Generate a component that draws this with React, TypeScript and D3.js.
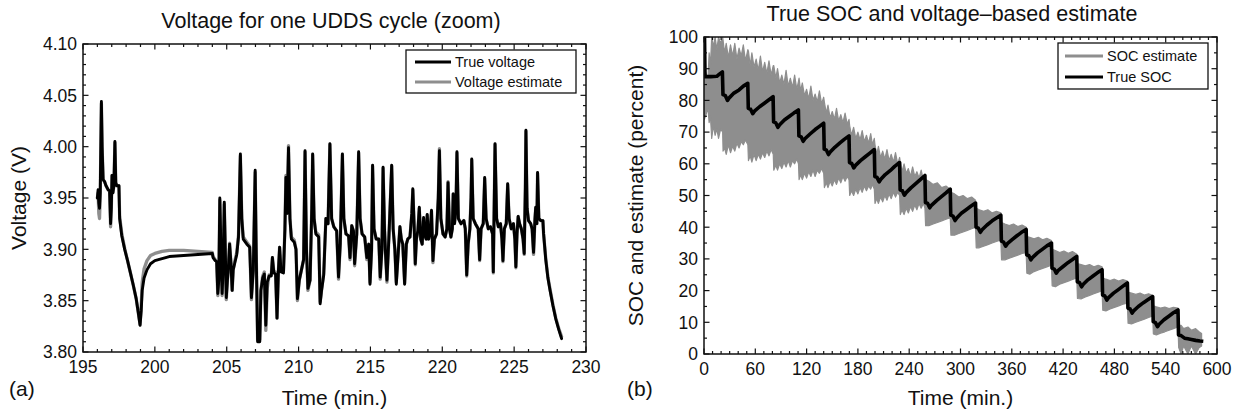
import React from "react";
import * as d3 from "d3";

// ---------- Data: left panel (Voltage for one UDDS cycle) ----------
const VOLT_TRUE: [number, number][] = [
  [196.0, 3.95], [196.05, 3.958], [196.1, 3.945], [196.15, 3.94], [196.2, 3.955], [196.28, 4.044], [196.33, 4.0],
  [196.4, 3.968], [196.5, 3.966], [196.6, 3.962], [196.75, 3.958], [196.85, 3.957], [196.92, 3.925], [196.97, 3.94],
  [197.02, 3.972], [197.08, 3.955], [197.15, 3.962], [197.22, 4.005], [197.28, 3.965], [197.35, 3.962], [197.5, 3.962],
  [197.55, 3.93], [197.7, 3.913], [197.9, 3.9], [198.1, 3.889], [198.3, 3.877], [198.5, 3.865], [198.7, 3.852],
  [198.85, 3.838], [198.97, 3.826], [199.05, 3.84], [199.12, 3.86], [199.25, 3.872], [199.45, 3.88], [199.7, 3.886],
  [200.0, 3.889], [200.5, 3.891], [201.0, 3.893], [202.0, 3.894], [203.0, 3.895], [204.0, 3.896],
  [204.05, 3.892], [204.2, 3.889], [204.3, 3.888], [204.38, 3.857], [204.45, 3.87], [204.52, 3.95], [204.6, 3.9],
  [204.68, 3.857], [204.75, 3.88], [204.83, 3.946], [204.9, 3.9], [204.97, 3.853], [205.05, 3.87], [205.12, 3.883],
  [205.2, 3.905], [205.28, 3.89], [205.38, 3.86], [205.45, 3.88], [205.55, 3.886], [205.7, 3.895], [205.82, 3.912],
  [205.95, 3.993], [206.05, 3.93], [206.15, 3.91], [206.4, 3.905], [206.6, 3.902], [206.72, 3.853], [206.85, 3.88],
  [206.98, 3.977], [207.05, 3.9], [207.15, 3.81], [207.3, 3.81], [207.38, 3.86], [207.5, 3.872], [207.62, 3.876],
  [207.72, 3.826], [207.82, 3.868], [207.95, 3.874], [208.1, 3.874], [208.18, 3.892], [208.28, 3.877], [208.4, 3.876],
  [208.5, 3.833], [208.6, 3.88], [208.68, 3.902], [208.78, 3.878], [208.95, 3.877], [209.05, 3.92], [209.12, 3.97],
  [209.2, 3.935], [209.3, 3.999], [209.4, 3.93], [209.5, 3.91], [209.7, 3.907], [209.82, 3.9], [209.92, 3.852],
  [210.05, 3.87], [210.2, 3.88], [210.35, 3.89], [210.45, 3.996], [210.55, 3.9], [210.65, 3.862], [210.8, 3.87],
  [210.92, 3.94], [210.98, 3.993], [211.08, 3.93], [211.2, 3.915], [211.4, 3.912], [211.5, 3.847], [211.6, 3.86],
  [211.75, 3.875], [211.9, 3.93], [212.05, 3.925], [212.18, 4.003], [212.3, 3.93], [212.45, 3.922], [212.65, 3.918],
  [212.78, 3.873], [212.9, 3.905], [213.05, 3.993], [213.15, 3.93], [213.3, 3.915], [213.48, 3.913], [213.58, 3.892],
  [213.7, 3.923], [213.82, 3.918], [213.9, 3.886], [214.05, 3.915], [214.18, 3.995], [214.28, 3.93], [214.42, 3.915],
  [214.6, 3.912], [214.75, 3.892], [214.88, 3.905], [214.97, 3.866], [215.08, 3.9], [215.15, 3.982], [215.25, 3.92],
  [215.4, 3.91], [215.58, 3.91], [215.68, 3.873], [215.8, 3.9], [215.88, 3.98], [215.98, 3.92], [216.05, 3.896],
  [216.15, 3.87], [216.28, 3.91], [216.48, 3.982], [216.58, 3.92], [216.7, 3.9], [216.8, 3.866], [216.95, 3.9],
  [217.05, 3.922], [217.15, 3.91], [217.25, 3.905], [217.38, 3.866], [217.5, 3.905], [217.6, 3.91], [217.75, 3.912],
  [217.88, 3.935], [217.95, 3.959], [218.05, 3.92], [218.12, 3.886], [218.2, 3.91], [218.3, 3.918], [218.4, 3.941],
  [218.5, 3.91], [218.6, 3.905], [218.7, 3.931], [218.8, 3.913], [218.88, 3.91], [218.95, 3.934], [219.05, 3.91],
  [219.15, 3.915], [219.25, 3.938], [219.35, 3.889], [219.45, 3.91], [219.6, 3.915], [219.72, 3.95], [219.8, 3.996],
  [219.9, 3.93], [220.05, 3.915], [220.2, 3.912], [220.32, 3.92], [220.4, 3.965], [220.5, 3.92], [220.6, 3.912],
  [220.7, 3.92], [220.76, 3.954], [220.85, 3.925], [220.95, 3.94], [221.02, 3.995], [221.12, 3.93], [221.3, 3.925],
  [221.5, 3.928], [221.6, 3.92], [221.7, 3.875], [221.8, 3.905], [221.92, 3.92], [222.0, 3.95], [222.05, 3.988],
  [222.15, 3.93], [222.3, 3.925], [222.5, 3.92], [222.6, 3.89], [222.7, 3.92], [222.85, 3.925], [222.95, 3.97],
  [223.05, 3.93], [223.2, 3.92], [223.35, 3.922], [223.5, 3.915], [223.55, 3.878], [223.6, 3.93], [223.67, 4.003],
  [223.78, 3.93], [223.9, 3.922], [224.05, 3.925], [224.15, 3.91], [224.22, 3.889], [224.32, 3.92], [224.45, 3.925],
  [224.55, 3.964], [224.65, 3.93], [224.8, 3.92], [224.95, 3.925], [225.05, 3.91], [225.12, 3.883], [225.2, 3.915],
  [225.28, 3.932], [225.38, 3.925], [225.5, 3.92], [225.62, 3.91], [225.7, 3.896], [225.78, 3.96], [225.82, 4.016],
  [225.9, 3.94], [226.0, 3.928], [226.15, 3.925], [226.25, 3.92], [226.35, 3.897], [226.45, 3.93], [226.5, 3.941],
  [226.58, 3.925], [226.63, 3.975], [226.72, 3.93], [226.85, 3.928], [227.0, 3.928], [227.05, 3.915], [227.2, 3.89],
  [227.35, 3.872], [227.5, 3.86], [227.7, 3.845], [227.9, 3.832], [228.1, 3.822], [228.3, 3.813],
];

const VOLT_EST: [number, number][] = [
  [196.0, 3.95], [196.05, 3.955], [196.1, 3.935], [196.15, 3.93], [196.2, 3.952], [196.28, 4.042], [196.33, 4.0],
  [196.4, 3.968], [196.5, 3.966], [196.6, 3.962], [196.75, 3.958], [196.85, 3.957], [196.92, 3.922], [196.97, 3.94],
  [197.02, 3.972], [197.08, 3.955], [197.15, 3.962], [197.22, 4.004], [197.28, 3.965], [197.35, 3.962], [197.5, 3.962],
  [197.55, 3.932], [197.7, 3.915], [197.9, 3.901], [198.1, 3.889], [198.3, 3.877], [198.5, 3.865], [198.7, 3.852],
  [198.85, 3.838], [198.97, 3.827], [199.05, 3.845], [199.12, 3.868], [199.25, 3.881], [199.45, 3.889], [199.7, 3.894],
  [200.0, 3.896], [200.5, 3.898], [201.0, 3.899], [202.0, 3.899], [203.0, 3.898], [204.0, 3.897],
  [204.05, 3.893], [204.2, 3.89], [204.3, 3.888], [204.38, 3.855], [204.45, 3.87], [204.52, 3.948], [204.6, 3.9],
  [204.68, 3.855], [204.75, 3.88], [204.83, 3.944], [204.9, 3.9], [204.97, 3.851], [205.05, 3.87], [205.12, 3.883],
  [205.2, 3.906], [205.28, 3.89], [205.38, 3.86], [205.45, 3.88], [205.55, 3.888], [205.7, 3.897], [205.82, 3.914],
  [205.95, 3.991], [206.05, 3.93], [206.15, 3.912], [206.4, 3.907], [206.6, 3.903], [206.72, 3.851], [206.85, 3.88],
  [206.98, 3.975], [207.05, 3.9], [207.15, 3.812], [207.3, 3.812], [207.38, 3.86], [207.5, 3.874], [207.62, 3.878],
  [207.72, 3.821], [207.82, 3.862], [207.95, 3.875], [208.1, 3.875], [208.18, 3.892], [208.28, 3.878], [208.4, 3.878],
  [208.5, 3.833], [208.6, 3.88], [208.68, 3.902], [208.78, 3.879], [208.95, 3.879], [209.05, 3.92], [209.12, 3.972],
  [209.2, 3.935], [209.3, 4.001], [209.4, 3.93], [209.5, 3.912], [209.7, 3.909], [209.82, 3.9], [209.92, 3.85],
  [210.05, 3.87], [210.2, 3.88], [210.35, 3.89], [210.45, 3.995], [210.55, 3.9], [210.65, 3.86], [210.8, 3.87],
  [210.92, 3.94], [210.98, 3.992], [211.08, 3.93], [211.2, 3.917], [211.4, 3.914], [211.5, 3.849], [211.6, 3.86],
  [211.75, 3.877], [211.9, 3.93], [212.05, 3.925], [212.18, 4.002], [212.3, 3.93], [212.45, 3.922], [212.65, 3.918],
  [212.78, 3.871], [212.9, 3.905], [213.05, 3.992], [213.15, 3.93], [213.3, 3.915], [213.48, 3.913], [213.58, 3.89],
  [213.7, 3.923], [213.82, 3.918], [213.9, 3.884], [214.05, 3.915], [214.18, 3.994], [214.28, 3.93], [214.42, 3.915],
  [214.6, 3.912], [214.75, 3.89], [214.88, 3.905], [214.97, 3.868], [215.08, 3.9], [215.15, 3.981], [215.25, 3.92],
  [215.4, 3.91], [215.58, 3.91], [215.68, 3.871], [215.8, 3.9], [215.88, 3.979], [215.98, 3.92], [216.05, 3.896],
  [216.15, 3.868], [216.28, 3.91], [216.48, 3.981], [216.58, 3.92], [216.7, 3.9], [216.8, 3.868], [216.95, 3.9],
  [217.05, 3.922], [217.15, 3.91], [217.25, 3.905], [217.38, 3.867], [217.5, 3.905], [217.6, 3.91], [217.75, 3.912],
  [217.88, 3.935], [217.95, 3.958], [218.05, 3.92], [218.12, 3.885], [218.2, 3.91], [218.3, 3.918], [218.4, 3.94],
  [218.5, 3.91], [218.6, 3.905], [218.7, 3.93], [218.8, 3.913], [218.88, 3.91], [218.95, 3.933], [219.05, 3.91],
  [219.15, 3.915], [219.25, 3.937], [219.35, 3.887], [219.45, 3.91], [219.6, 3.915], [219.72, 3.95], [219.8, 3.998],
  [219.9, 3.93], [220.05, 3.915], [220.2, 3.912], [220.32, 3.92], [220.4, 3.966], [220.5, 3.92], [220.6, 3.912],
  [220.7, 3.92], [220.76, 3.954], [220.85, 3.925], [220.95, 3.94], [221.02, 3.994], [221.12, 3.93], [221.3, 3.925],
  [221.5, 3.928], [221.6, 3.92], [221.7, 3.874], [221.8, 3.905], [221.92, 3.92], [222.0, 3.95], [222.05, 3.987],
  [222.15, 3.93], [222.3, 3.925], [222.5, 3.92], [222.6, 3.889], [222.7, 3.92], [222.85, 3.925], [222.95, 3.969],
  [223.05, 3.93], [223.2, 3.92], [223.35, 3.922], [223.5, 3.915], [223.55, 3.877], [223.6, 3.93], [223.67, 4.002],
  [223.78, 3.93], [223.9, 3.922], [224.05, 3.925], [224.15, 3.91], [224.22, 3.888], [224.32, 3.92], [224.45, 3.925],
  [224.55, 3.963], [224.65, 3.93], [224.8, 3.92], [224.95, 3.925], [225.05, 3.91], [225.12, 3.882], [225.2, 3.915],
  [225.28, 3.932], [225.38, 3.925], [225.5, 3.92], [225.62, 3.91], [225.7, 3.895], [225.78, 3.96], [225.82, 4.015],
  [225.9, 3.94], [226.0, 3.928], [226.15, 3.925], [226.25, 3.92], [226.35, 3.895], [226.45, 3.93], [226.5, 3.94],
  [226.58, 3.925], [226.63, 3.974], [226.72, 3.93], [226.85, 3.928], [227.0, 3.928], [227.05, 3.915], [227.2, 3.891],
  [227.35, 3.873], [227.5, 3.861], [227.7, 3.846], [227.9, 3.833], [228.1, 3.823], [228.3, 3.815],
];

const LEFT_X_TICKS = [195, 200, 205, 210, 215, 220, 225, 230];
const LEFT_Y_TICKS = [3.8, 3.85, 3.9, 3.95, 4.0, 4.05, 4.1];

// ---------- Data: right panel (True SOC and voltage-based estimate) ----------
const SOC_TRUE: [number, number][] = [
  [0, 100], [0.6, 100], [1.2, 87.5], [8, 87.5], [15, 87.6], [18, 88.3], [21.5, 89],
  [22.2, 81.8], [25, 81.5], [27.5, 80], [29.5, 80.8], [35, 82.3], [41, 83.3], [46, 84.5], [51.2, 85.4],
  [51.8, 77.5], [54.5, 77.2], [57, 75.8], [59, 76.6], [65, 78], [71, 79.2], [76, 80.2], [80.8, 81.2],
  [81.4, 73.2], [84, 72.9], [86.5, 71.5], [88.5, 72.3], [94, 73.8], [100, 75], [105, 76], [110.4, 77],
  [111, 68.8], [113.6, 68.5], [116, 67.1], [118, 67.9], [124, 69.4], [130, 70.8], [135, 71.8], [140, 72.8],
  [140.6, 64.6], [143.2, 64.3], [145.6, 62.9], [147.6, 63.7], [153, 65.2], [159, 66.6], [164, 67.7], [169.6, 68.8],
  [170.2, 60.4], [172.8, 60.1], [175.2, 58.7], [177.2, 59.5], [183, 61], [189, 62.3], [194, 63.4], [199.2, 64.5],
  [199.8, 56], [202.4, 55.7], [204.8, 54.3], [206.8, 55.1], [212, 56.6], [218, 57.9], [223, 59.2], [228.8, 60.4],
  [229.4, 51.8], [232, 51.5], [234.4, 50.1], [236.4, 50.9], [242, 52.4], [248, 53.8], [253, 55], [258.4, 56.3],
  [259, 47.8], [261.6, 47.5], [264, 46.1], [266, 46.9], [272, 48.4], [278, 49.7], [283, 50.8], [288, 52],
  [288.6, 43.8], [291.2, 43.5], [293.6, 42.1], [295.6, 42.9], [301, 44.4], [307, 45.6], [312, 46.6], [317.6, 47.6],
  [318.2, 40], [320.8, 39.7], [323.2, 38.4], [325.2, 39.2], [331, 40.7], [337, 42], [342, 42.9], [347.2, 43.8],
  [347.8, 35.6], [350.4, 35.3], [352.8, 34], [354.8, 34.8], [360, 36], [366, 37.3], [371, 38.3], [376.8, 39.3],
  [377.4, 31.3], [380, 31], [382.4, 29.7], [384.4, 30.5], [390, 31.9], [396, 33.1], [401, 34.1], [406.4, 35],
  [407, 27.1], [409.6, 26.8], [412, 25.5], [414, 26.3], [420, 27.6], [426, 28.9], [431, 29.8], [436, 30.8],
  [436.6, 22.8], [439.2, 22.5], [441.6, 21.2], [443.6, 22], [449, 23.4], [455, 24.6], [460, 25.6], [465.6, 26.6],
  [466.2, 18.6], [468.8, 18.3], [471.2, 17], [473.2, 17.8], [479, 19.2], [485, 20.4], [490, 21.4], [495.2, 22.4],
  [495.8, 14.5], [498.4, 14.2], [500.8, 12.9], [502.8, 13.7], [508, 15], [514, 16.2], [519, 17.1], [524.8, 18.1],
  [525.4, 10.2], [528, 9.9], [530.4, 8.6], [532.4, 9.4], [538, 10.8], [544, 12], [549, 13], [554.4, 13.9],
  [555, 6], [558, 5.8], [562, 5], [566, 4.8], [570, 4.6], [575, 4.3], [580, 4.1], [584, 4],
];

// SOC estimate envelope: [time, low, high]
const SOC_EST_BAND: [number, number, number][] = [
  [0, 87, 88], [0.5, 74, 90], [3, 76, 88], [4.5, 78, 86], [6, 73, 95], [7.5, 75, 91], [9, 68, 100], [11, 72, 97],
  [13, 69, 100], [15, 71, 96], [17, 68, 100], [19.5, 71, 98], [21.8, 70, 100],
  [22.3, 64, 99], [24, 65, 95], [26, 63, 98], [28.5, 66, 93.5], [31, 63.5, 97.5], [33.5, 65.5, 94], [36, 64, 98],
  [38.5, 66.5, 93], [41, 65, 96.5], [43.5, 67, 94], [46, 66, 97.5], [48.5, 67.5, 92.5], [51.3, 66, 96],
  [52, 61, 95.5], [54, 62.5, 91], [56, 60.5, 95], [58.5, 63, 90.5], [61, 61, 93], [63.5, 63, 89.5], [66, 61.5, 94],
  [68.5, 63.5, 89], [71, 62, 92], [73.5, 64, 88.5], [76, 62.5, 92.5], [78.5, 64.5, 88], [81, 63, 91],
  [81.6, 58, 91], [84, 59.5, 87], [86, 58, 90], [88.5, 60, 85.5], [91, 58.5, 88], [93.5, 60.5, 85], [96, 59, 89.5],
  [98.5, 61, 84.5], [101, 59, 87], [103.5, 61, 84], [106, 60, 88], [108.5, 61.5, 83.5], [110.5, 60, 86],
  [111.2, 55, 87], [113, 56.5, 83], [115, 55, 85.5], [117.5, 57, 81.5], [120, 55.5, 83.5], [122.5, 57.5, 80.5],
  [125, 56, 84.5], [127.5, 58, 80], [130, 56, 82], [132.5, 58, 79.5], [135, 57, 83], [137.5, 58.5, 79], [140, 57, 81],
  [140.8, 52.5, 79.5], [143, 54, 76], [145, 52.5, 78.5], [147.5, 54.5, 74.5], [150, 53, 76.5], [152.5, 55, 74],
  [155, 53.5, 77.5], [157.5, 55.5, 73.5], [160, 54, 75.5], [162.5, 56, 73], [165, 54.5, 76], [167.5, 56, 72.5], [169.6, 55, 74],
  [170.4, 50, 72], [172.5, 51.5, 69], [175, 50, 71.5], [177.5, 52, 68], [180, 50.5, 70], [182.5, 52.5, 67.5],
  [185, 51, 70.5], [187.5, 53, 67], [190, 51.5, 69], [192.5, 53, 66.5], [195, 52, 69.5], [197, 53.5, 66], [199.2, 52, 68],
  [200, 47.5, 66], [202, 49, 63], [204, 47.5, 65.5], [206.5, 49.5, 62], [209, 48, 64], [211.5, 50, 61.5],
  [214, 48.5, 64.5], [216.5, 50.5, 61], [219, 49, 63], [221.5, 51, 60.5], [224, 49.5, 63.5], [226.5, 51, 60], [228.8, 50, 62],
  [229.6, 44, 60.5], [231.5, 45.5, 57.5], [234, 44, 60], [236.5, 46, 57], [239, 44.5, 58.5], [241.5, 46.5, 56],
  [244, 45, 59], [246.5, 47, 56], [249, 45.5, 57.5], [251.5, 47.5, 55.5], [254, 46, 58], [256.5, 47.5, 55], [258.4, 46, 56.5],
  [259.2, 40.5, 55], [263, 40.5, 54.5], [268, 41, 53.5], [273, 41.5, 54], [278, 42, 52.5], [283, 42.5, 53], [288, 43, 52],
  [288.8, 37.5, 51], [293, 37.5, 50.5], [298, 38, 49.5], [303, 38.5, 50], [308, 39, 49], [313, 39.5, 49.5], [317.6, 40, 48.5],
  [318.4, 33.5, 46], [322, 33.5, 45.5], [327, 34, 45], [332, 34.5, 45.5], [337, 35, 44.5], [342, 35.5, 45], [347.2, 36, 44.5],
  [348, 29.7, 41.5], [352, 29.7, 41], [357, 30.2, 40.5], [362, 30.7, 41], [367, 31.2, 40.2], [372, 31.7, 40.7], [376.8, 32, 40],
  [377.6, 25.5, 37], [381, 25.2, 36.8], [386, 26, 36.3], [391, 26.5, 36.8], [396, 27, 36], [401, 27.5, 36.5], [406.4, 28, 35.8],
  [407.2, 21.5, 33], [411, 21.2, 32.6], [416, 22, 32], [421, 22.5, 32.5], [426, 23, 31.8], [431, 23.5, 32.3], [436, 24, 31.5],
  [436.8, 17.5, 28.5], [441, 17.4, 28.2], [446, 18, 27.8], [451, 18.5, 28.2], [456, 19, 27.5], [461, 19.5, 28], [465.6, 20, 27.5],
  [466.4, 13.8, 24], [470, 13.6, 23.6], [475, 14.2, 23.2], [480, 14.7, 23.6], [485, 15.2, 23], [490, 15.7, 23.5], [495.2, 16, 23],
  [496, 9.7, 19.5], [500, 9.5, 19.2], [505, 10, 18.8], [510, 10.5, 19.2], [515, 11, 18.6], [520, 11.5, 19], [524.8, 12, 18.5],
  [525.6, 6.3, 15.2], [529, 6, 14.9], [534, 6.6, 14.5], [539, 7, 14.8], [544, 7.5, 14.3], [549, 8, 14.7], [554.4, 8.5, 14.5],
  [555.2, 2, 9], [558, 0, 9], [561, 2.5, 8], [566, 0, 8.5], [570, 2.5, 7.5], [575, 0, 8], [579, 2, 7], [582, 2.5, 6.5],
];

const RIGHT_X_TICKS = [0, 60, 120, 180, 240, 300, 360, 420, 480, 540, 600];
const RIGHT_Y_TICKS = [0, 10, 20, 30, 40, 50, 60, 70, 80, 90, 100];

// ---------- Styles ----------
const FONT = "'Liberation Sans', Arial, Helvetica, sans-serif";
const GRAY = "#8e8e8e";
const INK = "#111";

type FrameProps = {
  x: d3.ScaleLinear<number, number>;
  y: d3.ScaleLinear<number, number>;
  xMajor: number[];
  yMajor: number[];
  xMinor: number[];
  yMinor: number[];
  fmtY: (v: number) => string;
  fmtX: (v: number) => string;
};

function Frame({ x, y, xMajor, yMajor, xMinor, yMinor, fmtY, fmtX }: FrameProps) {
  const [x0, x1] = x.range();
  const [y0, y1] = y.range(); // y0 bottom, y1 top
  const MJ = 5.5;
  const MN = 3;
  const ticks: any[] = [];
  xMajor.forEach((v, i) => {
    const px = x(v);
    ticks.push(<line key={"xb" + i} x1={px} x2={px} y1={y0} y2={y0 - MJ} />);
    ticks.push(<line key={"xt" + i} x1={px} x2={px} y1={y1} y2={y1 + MJ} />);
  });
  xMinor.forEach((v, i) => {
    const px = x(v);
    ticks.push(<line key={"xmb" + i} x1={px} x2={px} y1={y0} y2={y0 - MN} />);
    ticks.push(<line key={"xmt" + i} x1={px} x2={px} y1={y1} y2={y1 + MN} />);
  });
  yMajor.forEach((v, i) => {
    const py = y(v);
    ticks.push(<line key={"yl" + i} x1={x0} x2={x0 + MJ} y1={py} y2={py} />);
    ticks.push(<line key={"yr" + i} x1={x1} x2={x1 - MJ} y1={py} y2={py} />);
  });
  yMinor.forEach((v, i) => {
    const py = y(v);
    ticks.push(<line key={"yml" + i} x1={x0} x2={x0 + MN} y1={py} y2={py} />);
    ticks.push(<line key={"ymr" + i} x1={x1} x2={x1 - MN} y1={py} y2={py} />);
  });
  return (
    <g>
      <rect x={x0} y={y1} width={x1 - x0} height={y0 - y1} fill="none" stroke={INK} strokeWidth={1.5} />
      <g stroke={INK} strokeWidth={1.2}>{ticks}</g>
      <g fontFamily={FONT} fontSize={17.5} fill={INK}>
        {yMajor.map((v, i) => (
          <text key={"ylab" + i} x={x0 - 6} y={y(v)} dy="0.36em" textAnchor="end">{fmtY(v)}</text>
        ))}
        {xMajor.map((v, i) => (
          <text key={"xlab" + i} x={x(v)} y={y0 + 21} textAnchor="middle">{fmtX(v)}</text>
        ))}
      </g>
    </g>
  );
}

export default function App() {
  const LX0 = 83, LX1 = 586, LY0 = 352, LY1 = 44;
  const RX0 = 704, RX1 = 1217, RY0 = 354, RY1 = 37;
  // Left scales
  const xL = d3.scaleLinear().domain([195, 230]).range([LX0, LX1]);
  const yL = d3.scaleLinear().domain([3.8, 4.1]).range([LY0, LY1]);
  // Right scales
  const xR = d3.scaleLinear().domain([0, 600]).range([RX0, RX1]);
  const yR = d3.scaleLinear().domain([0, 100]).range([RY0, RY1]);

  const lineL = d3.line<[number, number]>().x((d) => xL(d[0])).y((d) => yL(d[1]));
  const lineR = d3.line<[number, number]>().x((d) => xR(d[0])).y((d) => yR(d[1]));
  const bandR = d3
    .area<[number, number, number]>()
    .x((d) => xR(d[0]))
    .y0((d) => yR(d[1]))
    .y1((d) => yR(d[2]));

  const leftXMinor = d3.range(195, 230.001, 1).filter((v) => !LEFT_X_TICKS.includes(v));
  const leftYMinor = d3.range(380, 410.001, 1).map((v) => v / 100).filter((v) => !LEFT_Y_TICKS.some((t) => Math.abs(t - v) < 1e-6));
  const rightXMinor = d3.range(0, 600.001, 10).filter((v) => v % 60 !== 0);
  const rightYMinor = d3.range(5, 100, 10);

  return (
    <div style={{ position: "absolute", left: 0, top: 0 }}>
      <svg width={1245} height={416} viewBox="0 0 1245 416" style={{ display: "block", background: "#fff" }}>
        <defs>
          <clipPath id="clipL">
            <rect x={LX0} y={LY1} width={LX1 - LX0} height={LY0 - LY1} />
          </clipPath>
          <clipPath id="clipR">
            <rect x={RX0} y={RY1} width={RX1 - RX0} height={RY0 - RY1} />
          </clipPath>
        </defs>
        <rect x={0} y={0} width={1245} height={416} fill="#fff" />

        {/* ---------- Left panel ---------- */}
        <g clipPath="url(#clipL)" fill="none" strokeLinejoin="round" strokeLinecap="round">
          <path d={lineL(VOLT_EST) || ""} stroke={GRAY} strokeWidth={3.3} />
          <path d={lineL(VOLT_TRUE) || ""} stroke="#000" strokeWidth={2.9} />
        </g>
        <Frame
          x={xL}
          y={yL}
          xMajor={LEFT_X_TICKS}
          yMajor={LEFT_Y_TICKS}
          xMinor={leftXMinor}
          yMinor={leftYMinor}
          fmtY={(v) => v.toFixed(2)}
          fmtX={(v) => String(v)}
        />
        <g fontFamily={FONT} fill={INK}>
          <text x={331} y={28} fontSize={21.5} textAnchor="middle">Voltage for one UDDS cycle (zoom)</text>
          <text x={(LX0 + LX1) / 2} y={405} fontSize={21} textAnchor="middle">Time (min.)</text>
          <text transform={`translate(26, ${(LY0 + LY1) / 2}) rotate(-90)`} fontSize={21} textAnchor="middle">Voltage (V)</text>
          <text x={9} y={396} fontSize={21}>(a)</text>
        </g>
        {/* left legend */}
        <g>
          <rect x={406} y={50} width={170} height={43} fill="#fff" stroke={INK} strokeWidth={1.3} />
          <line x1={415} x2={451} y1={62} y2={62} stroke="#000" strokeWidth={3} />
          <line x1={415} x2={451} y1={82} y2={82} stroke={GRAY} strokeWidth={3} />
          <g fontFamily={FONT} fontSize={14.5} fill={INK}>
            <text x={455} y={62} dy="0.35em">True voltage</text>
            <text x={455} y={82} dy="0.35em">Voltage estimate</text>
          </g>
        </g>

        {/* ---------- Right panel ---------- */}
        <g clipPath="url(#clipR)">
          <path d={bandR(SOC_EST_BAND) || ""} fill={GRAY} stroke={GRAY} strokeWidth={1.2} strokeLinejoin="round" />
          <path d={lineR(SOC_TRUE) || ""} fill="none" stroke="#000" strokeWidth={3.6} strokeLinejoin="round" />
        </g>
        <Frame
          x={xR}
          y={yR}
          xMajor={RIGHT_X_TICKS}
          yMajor={RIGHT_Y_TICKS}
          xMinor={rightXMinor}
          yMinor={rightYMinor}
          fmtY={(v) => String(v)}
          fmtX={(v) => String(v)}
        />
        <g fontFamily={FONT} fill={INK}>
          <text x={952} y={21} fontSize={21.5} textAnchor="middle">True SOC and voltage–based estimate</text>
          <text x={(RX0 + RX1) / 2} y={405} fontSize={21} textAnchor="middle">Time (min.)</text>
          <text transform={`translate(643, ${(RY0 + RY1) / 2}) rotate(-90)`} fontSize={21} textAnchor="middle">SOC and estimate (percent)</text>
          <text x={627} y={396} fontSize={21}>(b)</text>
        </g>
        {/* right legend */}
        <g>
          <rect x={1058} y={43} width={150} height={46} fill="#fff" stroke={INK} strokeWidth={1.3} />
          <line x1={1065} x2={1103} y1={56} y2={56} stroke={GRAY} strokeWidth={3} />
          <line x1={1065} x2={1103} y1={77} y2={77} stroke="#000" strokeWidth={3} />
          <g fontFamily={FONT} fontSize={14.5} fill={INK}>
            <text x={1107} y={56} dy="0.35em">SOC estimate</text>
            <text x={1107} y={77} dy="0.35em">True SOC</text>
          </g>
        </g>
      </svg>
    </div>
  );
}
